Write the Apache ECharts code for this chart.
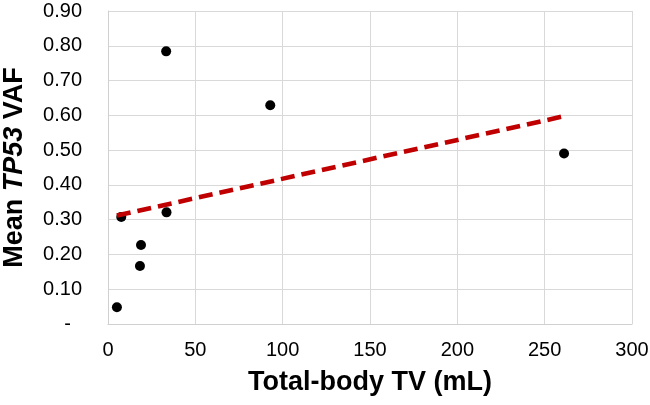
<!DOCTYPE html>
<html>
<head>
<meta charset="utf-8">
<script src="https://cdn.jsdelivr.net/npm/echarts@6/dist/echarts.min.js"></script>
<style>html,body{margin:0;padding:0;background:#fff}#c{width:650px;height:405px}</style>
</head>
<body>
<div id="c"></div>
<script>
// Data
var tvValues = [5.1, 7.6, 18.9, 18.3, 33.5, 33.3, 92.9, 261.1];
var vafValues = [0.048, 0.308, 0.227, 0.167, 0.321, 0.784, 0.629, 0.490];
var xTicks = [0, 50, 100, 150, 200, 250, 300];
var yTicks = [0, 0.1, 0.2, 0.3, 0.4, 0.5, 0.6, 0.7, 0.8, 0.9];

var points = tvValues.map(function (x, i) { return [x, vafValues[i]]; });

// least-squares linear trendline
var n = tvValues.length, mx = 0, my = 0;
tvValues.forEach(function (x, i) { mx += x; my += vafValues[i]; });
mx /= n; my /= n;
var sxy = 0, sxx = 0;
tvValues.forEach(function (x, i) { sxy += (x - mx) * (vafValues[i] - my); sxx += (x - mx) * (x - mx); });
var slope = sxy / sxx, intercept = my - slope * mx;
var xmin = Math.min.apply(null, tvValues), xmax = Math.max.apply(null, tvValues);
var trend = [[xmin, intercept + slope * xmin], [xmax, intercept + slope * xmax]];

var FONT = '"Liberation Sans", Arial, sans-serif';
var chart = echarts.init(document.getElementById('c'), null, { renderer: 'canvas' });
chart.setOption({
  animation: false,
  backgroundColor: '#fff',
  grid: { left: 108, right: 18, top: 11, bottom: 81, containLabel: false, outerBoundsMode: 'none' },
  xAxis: {
    type: 'value', min: xTicks[0], max: xTicks[xTicks.length - 1], interval: 50,
    axisLine: { show: true, lineStyle: { color: '#d0d0d0', width: 1 } },
    axisTick: { show: false },
    splitLine: { show: true, lineStyle: { color: '#d9d9d9', width: 1 } },
    axisLabel: { color: '#000', fontFamily: FONT, fontSize: 20, margin: 16 },
    name: 'Total-body TV (mL)', nameLocation: 'middle', nameGap: 45,
    nameTextStyle: { color: '#000', fontFamily: FONT, fontSize: 27, fontWeight: 'bold' }
  },
  yAxis: {
    type: 'value', min: yTicks[0], max: yTicks[yTicks.length - 1], interval: 0.1,
    axisLine: { show: true, lineStyle: { color: '#d0d0d0', width: 1 } },
    axisTick: { show: false },
    splitLine: { show: true, lineStyle: { color: '#d9d9d9', width: 1 } },
    axisLabel: {
      color: '#000', fontFamily: FONT, fontSize: 20, margin: 26,
      formatter: function (v) { return Math.abs(v) < 1e-9 ? '-  ' : v.toFixed(2); }
    },
    name: '{b|Mean }{i|TP53}{b| VAF}', nameLocation: 'middle', nameGap: 80, nameRotate: 90,
    nameTextStyle: {
      rich: {
        b: { color: '#000', fontFamily: FONT, fontSize: 27, fontWeight: 'bold' },
        i: { color: '#000', fontFamily: FONT, fontSize: 27, fontWeight: 'bold', fontStyle: 'italic' }
      }
    }
  },
  series: [
    {
      type: 'line', data: trend, showSymbol: false, symbol: 'none', z: 3,
      lineStyle: { color: '#C00000', width: 4.6, type: [14, 7], cap: 'butt' }
    },
    {
      type: 'scatter', data: points, symbol: 'circle', symbolSize: 10, z: 2,
      itemStyle: { color: '#000', opacity: 1 }
    }
  ]
});
</script>
</body>
</html>
